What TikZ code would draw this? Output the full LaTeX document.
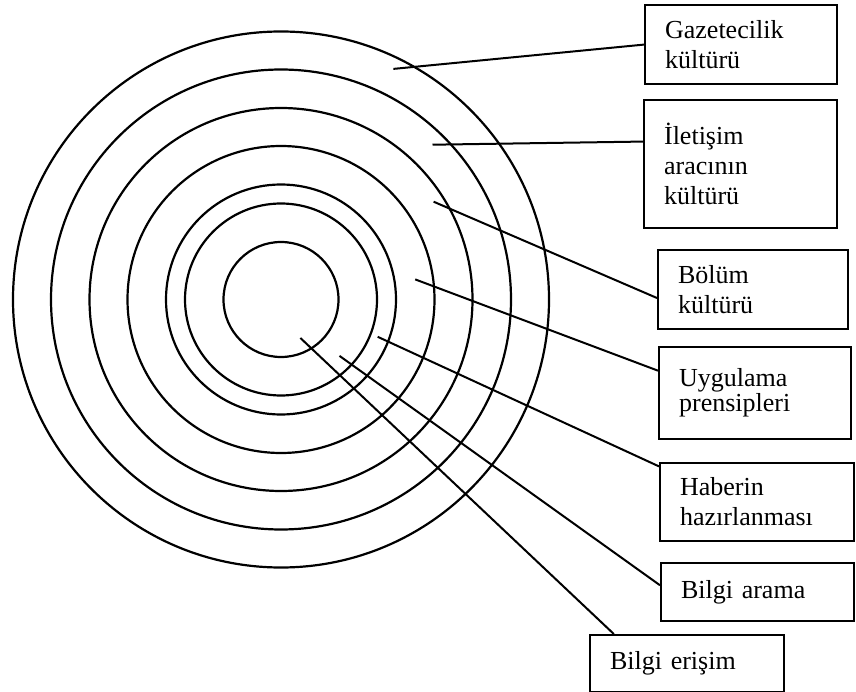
\documentclass[tikz,border=0pt]{standalone}
\usepackage{fontspec}
\setmainfont{Liberation Serif}
\usepackage{tikz}
\usetikzlibrary{positioning}

\begin{document}
\begin{tikzpicture}[
  x = 1pt, y = -1pt,
  ring/.style = {line width=2.2pt},
  lead/.style = {line width=2pt},
  lab/.style  = {rectangle, draw, line width=2.2pt, anchor=north west,
                 align=left, inner xsep=20pt, inner ysep=0pt,
                 font=\fontsize{26}{30}\selectfont}
]
\useasboundingbox (0,0) rectangle (856,692);

% rings
\coordinate (c) at (281,299.5);
\draw[ring] (c) circle[radius=268];
\draw[ring] (c) circle[radius=230];
\draw[ring] (c) circle[radius=191.5];
\draw[ring] (c) circle[radius=153.5];
\draw[ring] (c) circle[radius=115];
\draw[ring] (c) circle[radius=96];
\draw[ring] (c) circle[radius=57.5];

% labels
\node[lab, text width=152pt, minimum height=79pt] (gaz) at (644,4)
  {Gazetecilik\\kültürü};
\node[lab, text width=153pt, minimum height=128pt] (ilet) at (643,99)
  {İletişim\\aracının\\kültürü};
\node[lab, text width=150pt, minimum height=79pt] (bolum) at (657,249)
  {Bölüm\\kültürü};
\node[lab, text width=152pt, minimum height=92pt,
      font=\fontsize{26}{25}\selectfont] (uyg) at (658,346)
  {Uygulama\\prensipleri};
\node[lab, text width=154pt, minimum height=78pt] (haber) at (659,462)
  {Haberin\\hazırlanması};
\node[lab, text width=153pt, minimum height=58pt] (arama) at (660,562)
  {Bilgi arama};
\node[lab, text width=154pt, minimum height=57pt] (erisim) at (589,634)
  {Bilgi erişim};

% leader lines
\coordinate (p1) at (393.4,68.9);
\coordinate (p2) at (432.5,144.7);
\coordinate (p3) at (433.6,201.7);
\coordinate (p4) at (415.2,279.4);
\coordinate (p5) at (377.7,336.8);
\coordinate (p6) at (339.5,355.9);
\coordinate (p7) at (300.4,338);

\draw[lead] (p1) -- (gaz.west);
\draw[lead] (p2) -- (ilet.167.5);
\draw[lead] (p3) -- (bolum.185.9);
\draw[lead] (p4) -- (uyg.167.1);
\draw[lead] (p5) -- (haber.160.8);
\draw[lead] (p6) -- (arama.176.4);
\draw[lead] (p7) -- (erisim.158.7);
\end{tikzpicture}
\end{document}
